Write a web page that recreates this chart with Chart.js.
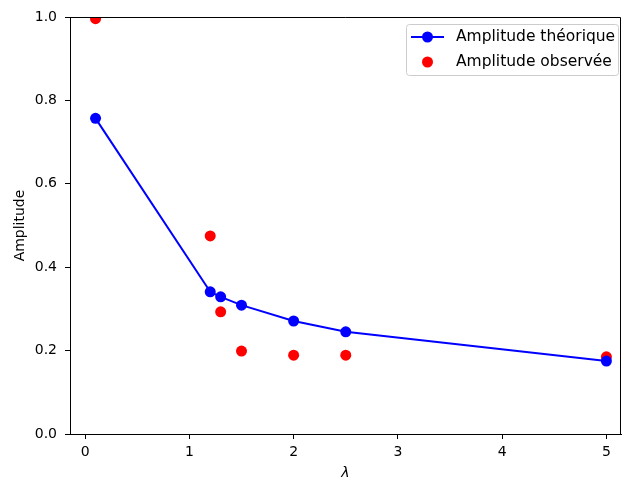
<!DOCTYPE html>
<html>
<head>
<meta charset="utf-8">
<script src="https://cdn.jsdelivr.net/npm/chart.js@4"></script>
<style>
  html, body { margin: 0; padding: 0; background: #fff; }
  #wrap { width: 622px; height: 480px; }
</style>
</head>
<body>
<div id="wrap"><canvas id="ampChart" width="622" height="480"></canvas></div>
<script>
const lambdas = [0.1, 1.2, 1.3, 1.5, 2.0, 2.5, 5.0];
const ampTheorique = [0.757, 0.341, 0.329, 0.309, 0.271, 0.245, 0.175];
const ampObservee = [0.996, 0.475, 0.293, 0.199, 0.189, 0.189, 0.185];
const xTicks = [0, 1, 2, 3, 4, 5];
const yTicks = [0.0, 0.2, 0.4, 0.6, 0.8, 1.0];

const FONT = 'DejaVu Sans';

function toPoints(ys) {
  return lambdas.map((x, i) => ({ x: x, y: ys[i] }));
}

// frame (top and right spines) + legend inside the axes
const framePlugin = {
  id: 'frame',
  afterDraw(chart) {
    const c = chart.ctx;
    const a = chart.chartArea;
    c.save();
    c.strokeStyle = '#000';
    c.lineWidth = 1;
    c.beginPath();
    c.moveTo(a.left, a.top + 0.5);
    c.lineTo(a.right - 0.5, a.top + 0.5);
    c.lineTo(a.right - 0.5, a.bottom);
    c.stroke();

    // legend box
    const bx = 406, by = 24, bw = 212, bh = 51;
    c.fillStyle = 'rgba(255,255,255,0.8)';
    c.strokeStyle = '#cccccc';
    c.beginPath();
    c.roundRect(bx + 0.5, by + 0.5, bw, bh, 3);
    c.fill();
    c.stroke();

    c.strokeStyle = 'blue';
    c.lineWidth = 2;
    c.beginPath();
    c.moveTo(411, 37);
    c.lineTo(444, 37);
    c.stroke();
    c.fillStyle = 'blue';
    c.beginPath();
    c.arc(427.5, 37, 5.5, 0, Math.PI * 2);
    c.fill();
    c.fillStyle = 'red';
    c.beginPath();
    c.arc(427.5, 62, 5.5, 0, Math.PI * 2);
    c.fill();

    c.fillStyle = '#000';
    c.font = '15.5px "' + FONT + '"';
    c.textBaseline = 'middle';
    c.fillText('Amplitude théorique', 456, 37);
    c.fillText('Amplitude observée', 456, 62);
    c.restore();
  }
};

const ctx = document.getElementById('ampChart');

new Chart(ctx, {
  type: 'scatter',
  data: {
    datasets: [{
      label: 'Amplitude théorique',
      data: toPoints(ampTheorique),
      showLine: true,
      borderColor: 'blue',
      backgroundColor: 'blue',
      borderWidth: 2,
      pointRadius: 5.5,
      pointHoverRadius: 5.5,
      pointBorderWidth: 0,
      tension: 0,
      clip: 0
    }, {
      label: 'Amplitude observée',
      data: toPoints(ampObservee),
      showLine: false,
      borderColor: 'red',
      backgroundColor: 'red',
      pointRadius: 5.5,
      pointHoverRadius: 5.5,
      pointBorderWidth: 0,
      clip: 0
    }]
  },
  options: {
    responsive: false,
    animation: false,
    layout: { autoPadding: false, padding: { top: 17, right: 1, left: 0, bottom: 0 } },
    plugins: {
      legend: { display: false },
      tooltip: { enabled: false }
    },
    scales: {
      x: {
        type: 'linear',
        min: -0.145,
        max: 5.14,
        afterBuildTicks(scale) {
          scale.ticks = xTicks.map(v => ({ value: v }));
        },
        afterFit(scale) {
          scale.height = 46;
          scale.paddingLeft = 0;
          scale.paddingRight = 0;
        },
        grid: { drawOnChartArea: false, drawTicks: true, tickLength: 5, color: '#000' },
        border: { color: '#000', width: 1 },
        ticks: {
          color: '#000',
          font: { family: FONT, size: 14 },
          padding: 5,
          callback: v => String(v)
        },
        title: {
          display: true,
          text: 'λ',
          color: '#000',
          font: { family: FONT, size: 14, style: 'italic' },
          padding: { top: 2, bottom: -2 }
        }
      },
      y: {
        type: 'linear',
        min: 0,
        max: 1,
        afterBuildTicks(scale) {
          scale.ticks = yTicks.map(v => ({ value: v }));
        },
        afterFit(scale) {
          scale.width = 70;
          scale.paddingTop = 0;
          scale.paddingBottom = 0;
        },
        grid: { drawOnChartArea: false, drawTicks: true, tickLength: 5, color: '#000' },
        border: { color: '#000', width: 1 },
        ticks: {
          color: '#000',
          font: { family: FONT, size: 14 },
          padding: 8,
          callback: v => v.toFixed(1)
        },
        title: {
          display: true,
          text: 'Amplitude',
          color: '#000',
          font: { family: FONT, size: 14 },
          padding: { top: 12, bottom: 4 }
        }
      }
    }
  },
  plugins: [framePlugin]
});
</script>
</body>
</html>
